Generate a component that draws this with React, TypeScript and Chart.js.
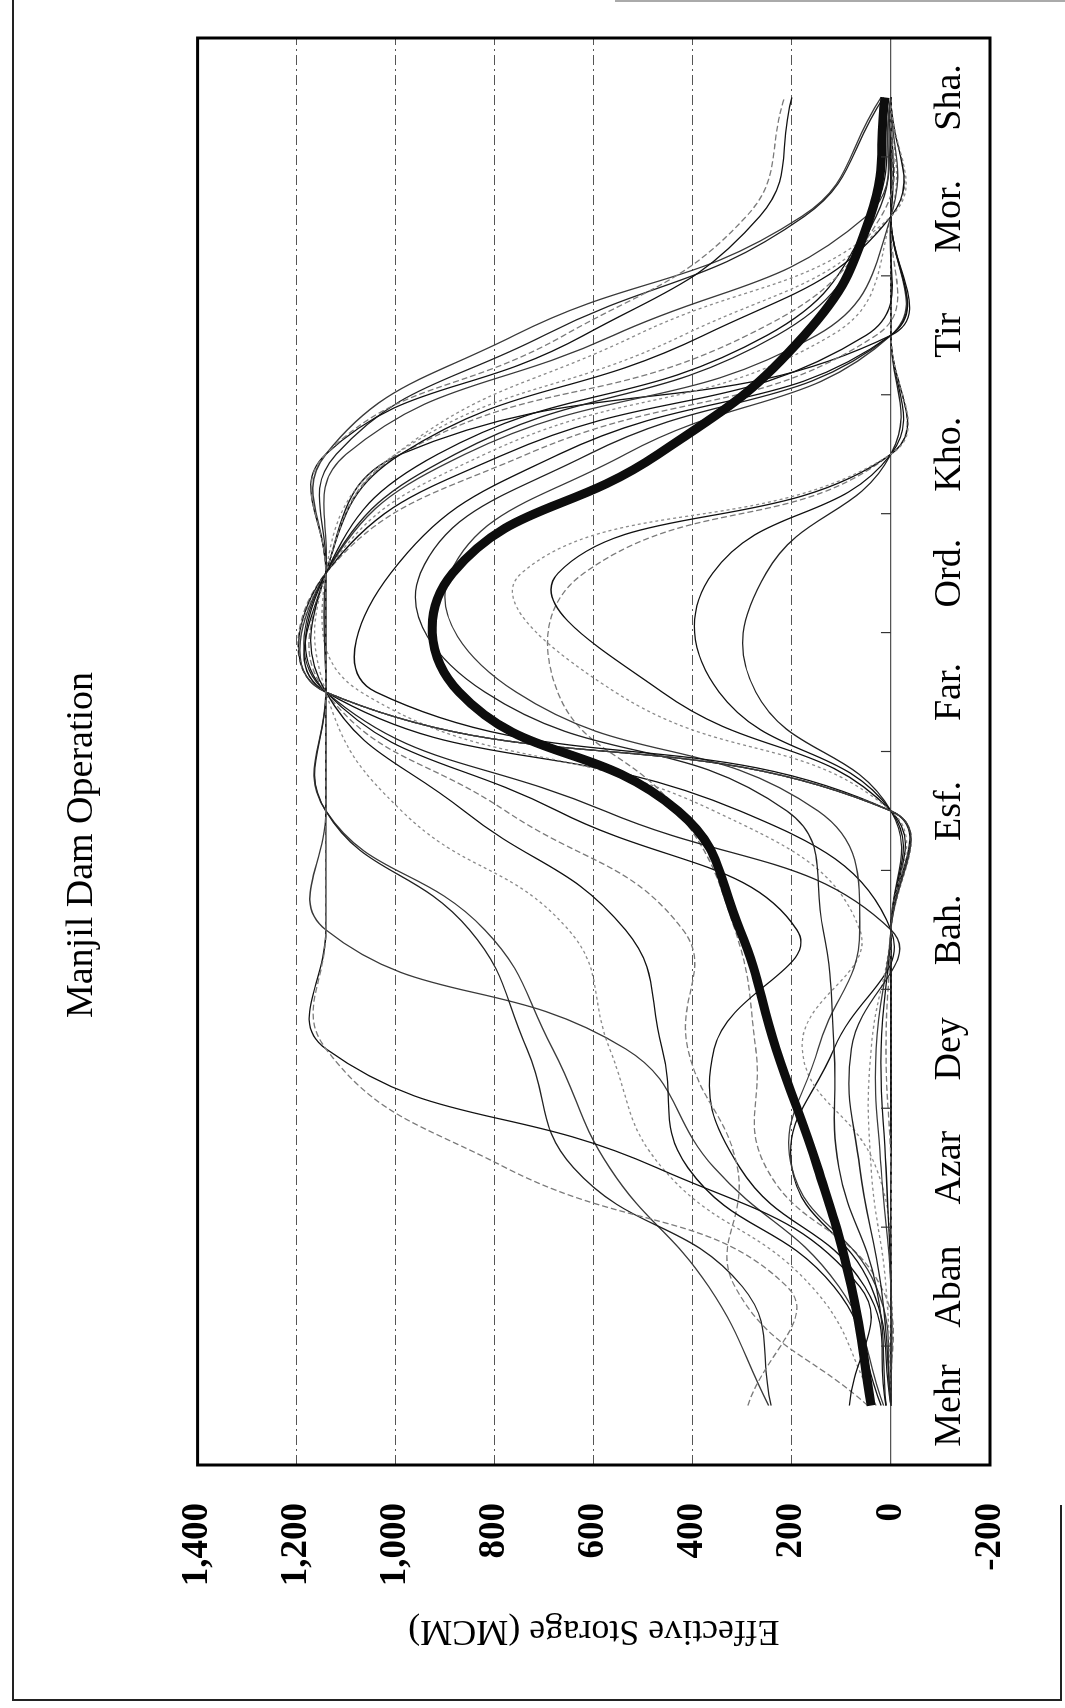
import React, { useEffect, useRef } from "react";
import { Chart, registerables } from "chart.js";

Chart.register(...registerables);

// ---------- data ----------
const months = ["Mehr", "Aban", "Azar", "Dey", "Bah.", "Esf.", "Far.", "Ord.", "Kho.", "Tir", "Mor.", "Sha."];
const storageTicks = [-200, 0, 200, 400, 600, 800, 1000, 1200, 1400];

const meanStorage = [40, 80, 148, 232, 305, 430, 872, 885, 470, 175, 42, 12];

const year01 = [289, 210, 778, 1141, 1141, 1141, 1141, 1141, 1141, 660, 292, 215];
const year02 = [84, 63, 473, 1141, 1141, 1141, 1141, 1141, 1141, 620, 265, 200];
const year03 = [242, 300, 641, 735, 851, 1141, 1141, 1141, 1120, 700, 175, 15];
const year04 = [247, 368, 568, 683, 820, 1141, 1141, 1141, 1100, 560, 50, 0];
const year05 = [30, 160, 462, 568, 651, 988, 1141, 1141, 1000, 515, 0, 0];
const year06 = [20, 115, 410, 462, 536, 862, 1141, 1141, 990, 378, 0, 0];
const year07 = [47, 315, 310, 410, 420, 778, 1141, 1141, 990, 290, 20, 0];
const year08 = [10, 53, 305, 357, 190, 673, 1141, 1141, 915, 250, 40, 0];
const year09 = [0, 20, 63, 80, 0, 578, 1141, 1141, 880, 230, 30, 0];
const year10 = [0, 0, 20, 30, 0, 0, 1141, 1141, 860, 150, 0, 0];
const year11 = [0, 10, 40, 40, 0, 0, 1141, 1141, 820, 120, 0, 0];
const year12 = [0, 0, 10, 20, 0, 0, 1141, 1141, 780, 50, 0, 0];
const year13 = [0, 0, 0, 10, 0, 0, 1141, 1141, 735, 30, 0, 0];
const year14 = [0, 0, 0, 0, 0, 0, 1040, 1010, 670, 0, 0, 0];
const year15 = [10, 30, 105, 115, 137, 210, 820, 950, 610, 0, 0, 0];
const year16 = [0, 30, 200, 147, 63, 147, 757, 890, 536, 0, 0, 0];
const year17 = [0, 0, 0, 0, 0, 0, 557, 746, 0, 0, 0, 0];
const year18 = [0, 0, 0, 0, 0, 0, 462, 672, 0, 0, 0, 0];
const year19 = [0, 20, 252, 273, 315, 431, 673, 620, 0, 0, 0, 0];
const year20 = [0, 0, 0, 0, 0, 0, 347, 360, 0, 0, 0, 0];
const year21 = [0, 0, 0, 0, 0, 0, 273, 252, 0, 0, 0, 0];
const year22 = [15, 105, 357, 536, 1141, 1141, 1141, 1141, 1141, 760, 180, 20];
const year23 = [0, 0, 30, 179, 63, 357, 1070, 1141, 1000, 420, 0, 0];
const year24 = [0, 40, 200, 115, 0, 305, 1141, 1141, 990, 0, 0, 0];

const yearSeries = [
  year01, year02, year03, year04, year05, year06, year07, year08,
  year09, year10, year11, year12, year13, year14, year15, year16,
  year17, year18, year19, year20, year21, year22, year23, year24,
];

// ---------- styles ----------
const SERIF = "'Liberation Serif', 'Times New Roman', serif";
const thinStyles = [
  { color: "#7a7a7a", dash: [6, 3] },
  { color: "#111111", dash: [] },
  { color: "#222222", dash: [] },
  { color: "#3a3a3a", dash: [] },
  { color: "#8a8a8a", dash: [3, 3] },
  { color: "#111111", dash: [] },
];

// original (un-rotated) canvas size
const CW = 1708;
const CH = 1065;

const framePlugin = {
  id: "frameAndTicks",
  afterDraw(chart: any) {
    const { ctx, chartArea, scales } = chart;
    const xs = scales.x;
    const ys = scales.y;
    ctx.save();
    const y0 = ys.getPixelForValue(0);
    ctx.strokeStyle = "#333";
    ctx.lineWidth = 1.2;
    for (let i = 1; i < months.length; i++) {
      const px = (xs.getPixelForValue(i - 1) + xs.getPixelForValue(i)) / 2;
      ctx.beginPath();
      ctx.moveTo(px, y0);
      ctx.lineTo(px, y0 - 10);
      ctx.stroke();
    }
    ctx.strokeStyle = "#000";
    ctx.lineWidth = 3;
    ctx.strokeRect(chartArea.left, chartArea.top, chartArea.right - chartArea.left, chartArea.bottom - chartArea.top);
    ctx.restore();
  },
};

function StorageChart() {
  const ref = useRef<HTMLCanvasElement | null>(null);
  useEffect(() => {
    if (!ref.current) return;
    const datasets: any[] = [
      {
        label: "Mean",
        data: meanStorage,
        borderColor: "#0d0d0d",
        borderWidth: 9,
        pointRadius: 0,
        tension: 0.45,
        fill: false,
        order: 0,
      },
    ];
    yearSeries.forEach((s, i) => {
      const st = thinStyles[i % thinStyles.length];
      datasets.push({
        label: "Year " + (i + 1),
        data: s,
        borderColor: st.color,
        borderDash: st.dash,
        borderWidth: 1.3,
        pointRadius: 0,
        tension: 0.45,
        fill: false,
        order: 1,
      });
    });

    const chart = new Chart(ref.current, {
      type: "line",
      data: { labels: months, datasets },
      plugins: [framePlugin],
      options: {
        animation: false,
        responsive: false,
        devicePixelRatio: 1,
        layout: { padding: { left: 56, right: 38, top: 0, bottom: 75 } },
        plugins: {
          legend: { display: false },
          tooltip: { enabled: false },
          title: {
            display: true,
            text: "Manjil Dam Operation",
            color: "#000",
            font: { family: SERIF, size: 38, weight: "normal" },
            padding: { top: 59, bottom: 93 },
          },
        },
        scales: {
          x: {
            type: "category",
            position: { y: 0 } as any,
            offset: true,
            grid: { display: true, drawOnChartArea: false, drawTicks: false },
            border: { display: true, color: "#555", width: 1.2 },
            ticks: {
              autoSkip: false,
              maxRotation: 0,
              minRotation: 0,
              padding: 36,
              color: "#000",
              font: { family: SERIF, size: 38 },
            },
          },
          y: {
            min: storageTicks[0],
            max: storageTicks[storageTicks.length - 1],
            afterFit: (s: any) => {
              s.width = 187;
            },
            ticks: {
              stepSize: 200,
              padding: 38,
              color: "#000",
              font: { family: SERIF, size: 37, weight: "bold" },
              callback: (v: any) => Number(v).toLocaleString("en-US"),
            },
            grid: { color: "#555", lineWidth: 1, drawTicks: false },
            border: { display: false, dash: [10, 4, 2, 4] },
            title: {
              display: true,
              text: "Effective Storage (MCM)",
              color: "#000",
              font: { family: SERIF, size: 36 },
              padding: { top: 0, bottom: 23 },
            },
          },
        },
      } as any,
    });
    return () => chart.destroy();
  }, []);

  return <canvas ref={ref} width={CW} height={CH} style={{ width: CW, height: CH, display: "block" }} />;
}

export default function App() {
  return (
    <div style={{ position: "absolute", left: 0, top: 0, width: 1065, height: 1708, overflow: "hidden", background: "#fff" }}>
      <div
        style={{
          position: "absolute",
          left: 0,
          top: 0,
          width: CW,
          height: CH,
          transformOrigin: "0 0",
          transform: `translateY(${CW}px) rotate(-90deg)`,
        }}
      >
        <StorageChart />
      </div>
      <div style={{ position: "absolute", left: 12, top: 0, width: 2, height: 1701, background: "#222" }} />
      <div style={{ position: "absolute", left: 12, top: 1699, width: 1050, height: 2, background: "#222" }} />
      <div style={{ position: "absolute", left: 1060, top: 1505, width: 2, height: 196, background: "#222" }} />
      <div style={{ position: "absolute", left: 615, top: 0, width: 450, height: 2, background: "#aaa" }} />
    </div>
  );
}
